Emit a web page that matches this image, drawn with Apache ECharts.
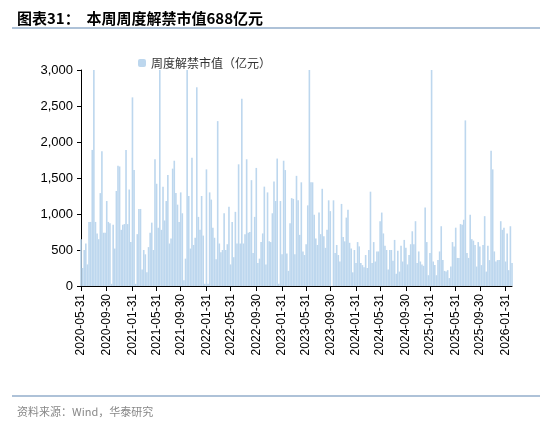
<!DOCTYPE html><html><head><meta charset="utf-8"><script src="https://cdn.jsdelivr.net/npm/echarts@6/dist/echarts.min.js"></script>
<style>body{margin:0;background:#fff}#c{width:550px;height:423px}</style></head><body><div id="c"></div><script>
var values=[650,250,500,590,300,890,890,1890,3000,890,730,650,1290,1870,740,740,1180,890,870,30,850,520,1320,1670,1660,780,850,860,1890,860,1340,610,2620,1610,30,720,1070,1070,230,500,440,190,540,740,880,500,1760,1420,810,3000,780,1380,910,1180,1540,590,660,1630,1740,1290,1130,890,1300,1010,80,380,3000,1250,520,1780,570,670,2760,960,780,1250,700,30,1620,30,1300,1200,810,670,370,2290,590,470,500,1010,500,580,1100,300,890,400,1030,590,1690,590,2600,590,720,1760,740,750,1470,460,960,1640,320,380,610,730,1380,300,1300,620,610,1010,1450,1180,1770,30,1180,440,1740,1610,450,210,870,1220,
1210,440,1530,1190,710,1440,480,430,580,1120,3000,1440,1440,990,660,570,1020,720,1350,690,530,780,1190,1040,0,1190,460,570,430,340,1140,680,620,950,1060,600,520,190,500,320,610,550,320,290,260,430,250,500,1310,320,610,340,480,480,900,1020,730,560,500,230,500,500,350,640,170,490,200,560,340,640,530,300,430,580,760,580,900,320,480,340,300,280,1090,610,150,460,3000,340,290,150,360,480,830,360,210,200,220,110,270,610,550,810,390,390,860,850,920,2300,460,390,990,650,630,570,270,610,550,290,570,970,200,560,360,1880,1620,480,340,360,360,900,780,810,340,730,220,830,320];
var tickDates=['2020-05-31','2020-09-30','2021-01-31','2021-05-31','2021-09-30','2022-01-31','2022-05-31','2022-09-30','2023-01-31','2023-05-31','2023-09-30','2024-01-31','2024-05-31','2024-09-30','2025-01-31','2025-05-31','2025-09-30','2026-01-31'];
var t0=Date.parse('2020-05-31'),t1=Date.parse('2026-03-08'),n=values.length,step=(t1-t0)/(n-1);
var cats=[];for(var i=0;i<n;i++)cats.push(t0+i*step);
var tickIdx={};tickDates.forEach(function(d){var t=Date.parse(d);for(var i=0;i<n;i++){if(cats[i]>=t-1){tickIdx[i]=d;break;}}});
var ch=echarts.init(document.getElementById('c'));
ch.setOption({animation:false,
title:[{text:'图表31：  本周周度解禁市值688亿元',left:12,top:6,textStyle:{fontSize:15,fontWeight:'bold',color:'#000',fontFamily:'Noto Sans CJK SC'}},
{text:'资料来源：Wind，华泰研究',left:12,top:401,textStyle:{fontSize:11,fontWeight:'normal',color:'#888',fontFamily:'Noto Sans CJK SC'}}],
graphic:[{type:'line',shape:{x1:12,y1:28,x2:540,y2:28},style:{stroke:'#93aecb',lineWidth:1.5}},{type:'line',shape:{x1:12,y1:396,x2:540,y2:396},style:{stroke:'#93aecb',lineWidth:1.5}}],
legend:{left:133,top:52,itemWidth:8,itemHeight:8,itemGap:4,textStyle:{fontSize:12,color:'#333',fontFamily:'Noto Sans CJK SC'},data:['周度解禁市值（亿元）']},
grid:{left:81,right:38,top:70,bottom:137,containLabel:false},
xAxis:{type:'category',data:cats,boundaryGap:false,axisLine:{lineStyle:{color:'#000'}},
axisTick:{interval:function(i){return tickIdx[i]!==undefined;},length:5,lineStyle:{color:'#000'}},
axisLabel:{interval:function(i){return tickIdx[i]!==undefined;},rotate:90,formatter:function(v,i){return tickIdx[i]||'';},fontSize:12,color:'#000',fontFamily:'Arial'}},
yAxis:{type:'value',min:0,max:3000,interval:500,splitLine:{show:false},axisLine:{show:true,lineStyle:{color:'#000'}},axisTick:{show:true,length:4,lineStyle:{color:'#000'}},
axisLabel:{fontSize:13,color:'#000',fontFamily:'Arial',formatter:function(v){return v.toLocaleString('en-US');}}},
series:[{name:'周度解禁市值（亿元）',type:'bar',data:values,barCategoryGap:'0%',itemStyle:{color:'#bdd7ee'}}]});
</script></body></html>
